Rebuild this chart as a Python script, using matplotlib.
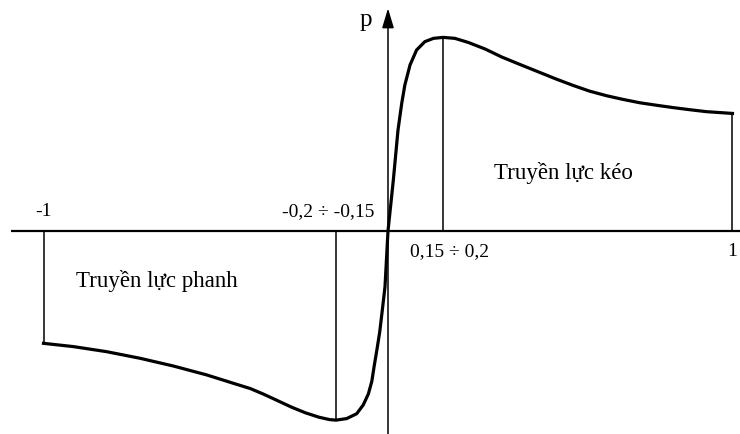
import numpy as np
import matplotlib
matplotlib.use("Agg")
import matplotlib.pyplot as plt

# ---- Characteristic curve p(x)
x_pts = [-1.0, -0.913, -0.817, -0.720, -0.623, -0.526, -0.449, -0.40, -0.36,
         -0.32, -0.28, -0.24, -0.20, -0.17, -0.151, -0.12, -0.091, -0.072,
         -0.057, -0.047, -0.040, -0.032, -0.024, -0.016, -0.0087,
         0.0, 0.0155, 0.029, 0.040, 0.049, 0.064, 0.083, 0.107, 0.132, 0.16,
         0.194, 0.233, 0.282, 0.330, 0.378, 0.441, 0.49, 0.538, 0.585, 0.635,
         0.683, 0.731, 0.78, 0.828, 0.877, 0.925, 1.0]
p_pts = [-0.579, -0.596, -0.622, -0.656, -0.696, -0.742, -0.785, -0.812, -0.842,
         -0.875, -0.908, -0.937, -0.960, -0.972, -0.975, -0.967, -0.942, -0.897,
         -0.840, -0.775, -0.695, -0.61, -0.52, -0.40, -0.287,
         0.0, 0.263, 0.52, 0.66, 0.753, 0.856, 0.933, 0.976, 0.993, 0.998,
         0.993, 0.972, 0.938, 0.897, 0.862, 0.817, 0.782, 0.750, 0.721, 0.697,
         0.678, 0.661, 0.648, 0.636, 0.625, 0.615, 0.606]

# zone boundaries (vertical lines)
bounds = [-1.0, -0.151, 0.16, 1.0]

# labels
tick_labels = {"-1": (-1.0, "above"), "-0,2 ÷ -0,15": (-0.175, "above"),
               "0,15 ÷ 0,2": (0.18, "below"), "1": (1.0, "below")}
zone_labels = [("Truyền lực kéo", 0.51, 0.30), ("Truyền lực phanh", -0.67, -0.26)]

plt.rcParams["font.family"] = ["Liberation Serif", "DejaVu Serif"]

fig = plt.figure(figsize=(7.4, 4.34), dpi=100)
ax = fig.add_axes([0, 0, 1, 1])
ax.set_xlim(-1.1263, 1.0218)
ax.set_ylim(-1.0464, 1.1907)
ax.axis("off")

# horizontal axis
ax.plot([-1.094, 1.0218], [0, 0], color="black", lw=1.6, solid_capstyle="butt")
# vertical axis with arrow
ax.annotate("", xy=(0, 1.148), xytext=(0, -1.0464),
            arrowprops=dict(arrowstyle="-|>,head_length=1.2,head_width=0.36",
                            color="black", lw=1.1, shrinkA=0, shrinkB=0))
ax.text(-0.063, 1.09, "p", fontsize=18, ha="center", va="center")

# boundary lines
for b in bounds:
    pb = p_pts[x_pts.index(b)]
    ax.plot([b, b], [0, pb], color="black", lw=1.1)

# curve
ax.plot(x_pts, p_pts, color="black", lw=2.3, solid_joinstyle="round")

for txt, (xv, pos) in tick_labels.items():
    yv = 0.10 if pos == "above" else -0.105
    ax.text(xv, yv, txt, fontsize=14, ha="center", va="center")

for txt, xv, yv in zone_labels:
    ax.text(xv, yv, txt, fontsize=16.5, ha="center", va="center")

fig.savefig("out.png", dpi=100)
